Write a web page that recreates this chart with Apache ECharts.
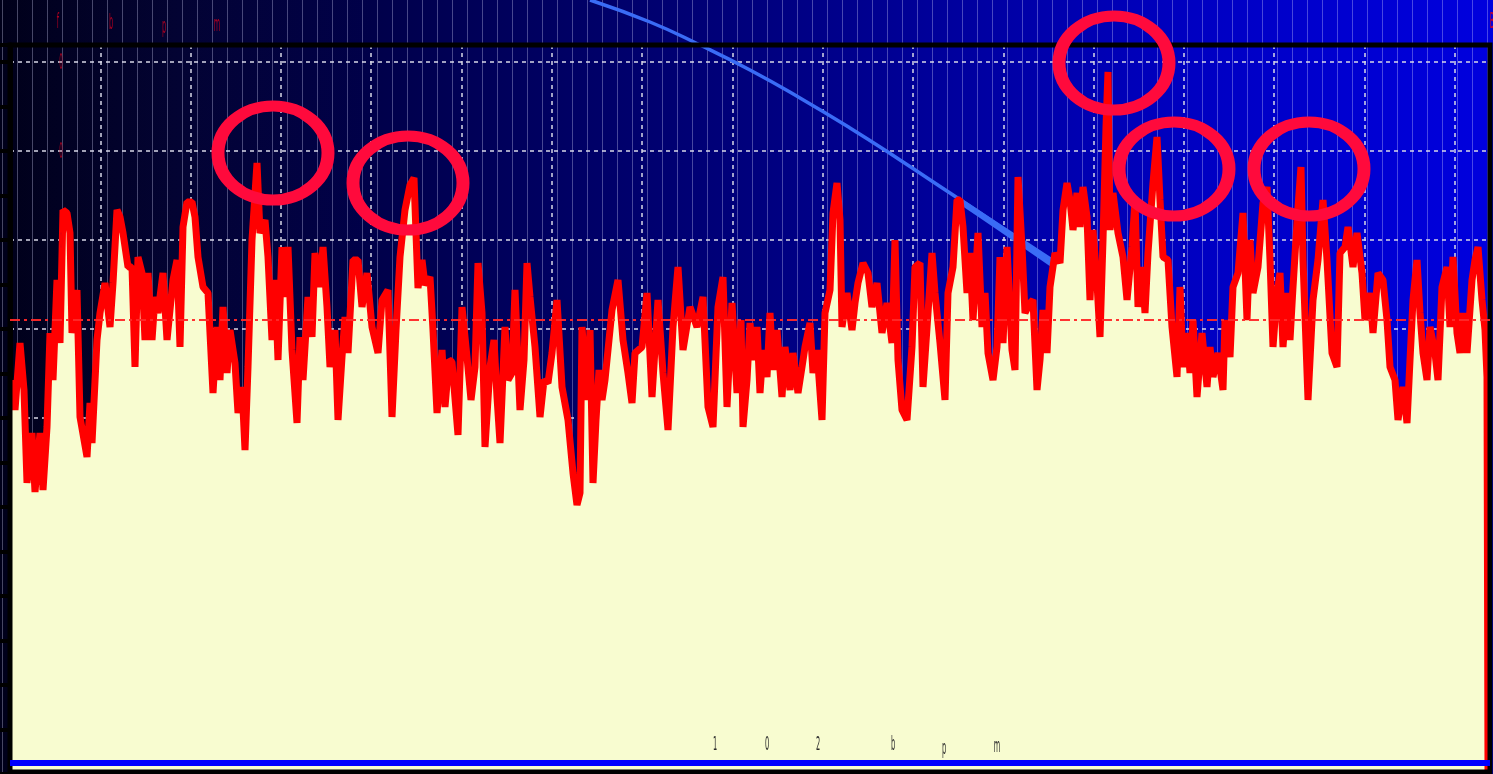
<!DOCTYPE html>
<html><head><meta charset="utf-8">
<script src="https://cdn.jsdelivr.net/npm/echarts@6/dist/echarts.min.js"></script>
<style>html,body{margin:0;padding:0;background:#000;}#c{width:1493px;height:774px;}</style>
</head><body><div id="c"></div>
<script>
// ---- data (sample position, amplitude) ----
const segmentA = [[2,394],[5,364],[10,431],[14,384],[17,291],[22,341],[25,282],[30,341],[33,284],[37,347],
[40,441],[43,394],[47,494],[50,431],[53,564],[57,561],[60,541],[62,441],[67,484],[70,357],
[77,317],[80,371],[82,331],[87,434],[90,461],[95,491],[100,447],[103,491],[107,564],[110,557],
[113,541],[118,507],[122,507],[125,407],[128,517],[132,501],[135,434],[138,501],[142,434],[145,477],
[148,461],[153,501],[157,434],[163,494],[167,514],[170,427],[173,547],[177,572],[182,572],[185,557],
[188,517],[193,487],[198,481],[203,381],[207,447],[210,394],[213,467],[217,401],[220,444],[225,411],
[228,361],[232,387],[235,324],[238,407],[242,534],[247,611],[250,541],[255,554],[258,517],[262,434],
[265,494],[268,414],[272,527],[275,477],[278,527],[282,424],[287,351],[290,437],[293,394],[298,477],
[302,437],[305,521],[310,487],[313,527],[317,467],[320,407],[325,444],[328,354],[332,417],[335,457],
[338,421],[343,514],[348,514],[352,467],[357,501],[362,447],[365,434],[368,421]];
const segmentB = [[372,474],[378,484],[382,357],[386,444],[390,517],[395,564],[400,589],[404,596],[408,486],[412,514],
[415,489],[420,497],[423,444],[427,361],[432,424],[435,367],[439,414],[442,412],[448,339],[452,467],
[457,417],[461,374],[465,407],[468,511],[472,461],[475,327],[480,407],[484,434],[487,377],[490,331],
[495,447],[498,394],[502,401],[505,484],[510,364],[514,414],[517,511],[520,477],[525,427],[530,357],
[534,394],[538,391],[542,421],[547,474],[552,387],[558,354],[563,301],[567,269],[570,281],[572,447],
[577,374],[580,444],[583,291],[586,354],[589,404],[592,374],[595,394],[602,464],[608,494],[613,434],
[618,401],[622,371],[625,421],[632,427],[637,481],[642,377],[648,474],[653,401],[658,344],[663,447],
[668,507],[673,424],[680,467],[687,447],[693,477],[698,367],[703,347],[708,467],[713,497],[717,367],
[722,471],[727,381]];
const segmentC = [[731,454],[733,347],[737,394],[740,451],[743,414],[747,447],[750,381],[753,424],[757,397],[760,461],
[763,404],[767,444],[772,377],[775,427],[780,384],[783,421],[788,381],[792,407],[795,427],[800,451],
[803,401],[807,424],[812,354],[815,461],[820,484],[823,561],[827,591],[830,554],[832,447],[837,481],
[842,444],[845,471],[848,491],[853,511],[858,501],[862,467],[867,491],[872,441],[877,471],[882,431],
[885,534],[888,414],[892,364],[897,354],[902,427],[905,507],[910,511],[913,387],[918,461],[922,521],
[925,481],[930,431],[935,374],[938,481],[943,507],[947,574],[950,574],[953,547],[957,481],[960,521],
[963,454],[968,541],[972,447],[975,481],[978,421],[983,394],[987,427],[990,517],[993,431],[997,527],
[1002,424],[1005,404],[1008,597],[1012,527],[1015,461],[1020,471],[1023,474],[1027,384],[1030,414],[1033,464],
[1037,421],[1040,487],[1045,521],[1050,511],[1053,564],[1057,591],[1060,574],[1063,544],[1067,581],[1070,547],
[1073,587],[1077,557],[1080,474],[1083,544],[1087,491],[1090,437],[1093,534],[1096,647],[1098,702]];
const segmentD = [[1100,544],[1103,581],[1108,541],[1113,517],[1117,474],[1122,527],[1125,574],[1128,467],[1132,507],[1135,461],
[1138,521],[1143,591],[1147,637],[1150,574],[1153,517],[1158,514],[1162,447],[1167,397],[1170,487],[1173,407],
[1177,441],[1180,401],[1183,454],[1187,377],[1192,441],[1197,387],[1200,427],[1203,397],[1208,421],[1213,384],
[1215,454],[1220,417],[1223,487],[1228,501],[1233,561],[1237,454],[1240,534],[1243,481],[1248,507],[1253,571],
[1257,587],[1260,514],[1263,427],[1267,481],[1270,501],[1273,427],[1277,481],[1280,434],[1283,487],[1288,567],
[1291,607],[1293,514],[1298,374],[1303,474],[1308,514],[1313,574],[1317,514],[1322,421],[1327,407],[1330,521],
[1335,527],[1338,547],[1343,507],[1347,541],[1352,501],[1355,454],[1360,481],[1363,441],[1368,501],[1373,494],
[1377,454],[1380,407],[1385,394],[1388,354],[1393,387],[1397,351],[1400,414],[1403,474],[1407,514],[1410,461],
[1413,421],[1417,394],[1420,447],[1425,421],[1428,394],[1432,487],[1437,507],[1440,447],[1443,517],[1447,441],
[1450,421],[1453,461],[1457,421],[1462,494],[1465,514],[1468,527],[1472,474],[1475,444],[1477,397],[1478,0]];
const trend = [[580,774],[640,752],[690,729],[740,704],[790,676],[840,646],[890,614],[940,581],[990,548],[1045,512]];
const trendTail = [[950,573],[990,546],[1045,508]];
const peakX = [263, 398, 1104, 1164, 1299];
const peakY = [621, 591, 711, 605, 605];
const meanLevel = 454;
const baseLevel = 11;
const tickX = [143, 214, 355, 426, 497, 709, 780, 851, 922, 993, 1205, 1276, 1347, 1417];
const tickH = [94, 29, 134, 104, 74, 124, 54, 54, 174, 129, 104, 84, 74, 104];
const bottomLabels = ['1', '0', '2', 'b', 'p', 'm'];
const topLabels = ['f', 'b', 'p', 'm'];
const sideLabels = ['0', '0', '0'];

const signal = segmentA.concat(segmentB, segmentC, segmentD);

// ---- layout for text and frame ----
const bottomPos = [[715,745],[767,745],[818,745],[893,745],[944,749],[997,747]];
const topPos = [[58,22],[111,23],[164,27],[217,25]];
const sidePos = [[61,63],[61,152],[61,242]];
const graphics = [];
graphics.push({type:'rect', z:4, silent:true, shape:{x:10, y:45, width:1480, height:727},
  style:{fill:null, stroke:'#000', lineWidth:5}});
bottomLabels.forEach((t, i) => graphics.push({type:'text', x:bottomPos[i][0], y:bottomPos[i][1], scaleX:0.35, z:100,
  style:{text:t, fontSize:19, fontFamily:'DejaVu Sans', fill:'#2a2a2a', textAlign:'center', textVerticalAlign:'middle'}}));
topLabels.forEach((t, i) => graphics.push({type:'text', x:topPos[i][0], y:topPos[i][1], scaleX:0.3, z:100,
  style:{text:t, fontSize:22, fontFamily:'DejaVu Sans', fill:'rgba(200,0,30,0.85)', textAlign:'center', textVerticalAlign:'middle'}}));
sideLabels.forEach((t, i) => graphics.push({type:'text', x:sidePos[i][0], y:sidePos[i][1], scaleX:0.25, z:100,
  style:{text:t, fontSize:22, fontFamily:'DejaVu Sans', fill:'rgba(200,0,30,' + (i === 2 ? 0.35 : 0.8) + ')', textAlign:'center', textVerticalAlign:'middle'}}));
graphics.push({type:'text', x:1492, y:22, scaleX:0.3, z:100,
  style:{text:'B', fontSize:22, fontFamily:'DejaVu Sans', fill:'rgba(220,0,30,0.9)', textAlign:'center', textVerticalAlign:'middle'}});

const chart = echarts.init(document.getElementById('c'), null, {renderer:'canvas'});
chart.setOption({
  animation: false,
  backgroundColor: {type:'linear', x:0, y:0, x2:1, y2:0, colorStops:[
    {offset:0, color:'#00001a'}, {offset:0.12, color:'#030333'}, {offset:0.25, color:'#00004a'},
    {offset:0.4, color:'#000068'}, {offset:0.5, color:'#00007c'}, {offset:0.6, color:'#000094'},
    {offset:0.7, color:'#0000ac'}, {offset:0.8, color:'#0000c2'}, {offset:1, color:'#0000de'}]},
  graphic: graphics,
  grid: [
    {left:10, right:3, top:45, bottom:0, show:false, containLabel:false},
    {left:2, right:0, top:0, bottom:0, show:false}
  ],
  xAxis: [
    {type:'value', gridIndex:0, min:0, max:1480, interval:90.3,
     axisLine:{show:false}, axisTick:{show:false}, axisLabel:{show:false},
     splitLine:{show:true, lineStyle:{color:'#d8d8e6', width:1.5, type:[4,4]}}},
    {type:'value', gridIndex:1, min:0, max:1491, interval:15,
     axisLine:{show:false}, axisTick:{show:false}, axisLabel:{show:false},
     splitLine:{show:true, lineStyle:{color:'rgba(220,220,255,0.32)', width:1}}}
  ],
  yAxis: [
    {type:'value', gridIndex:0, min:0, max:729, interval:89,
     axisLine:{show:true, lineStyle:{color:'#000', width:5}},
     axisTick:{show:true, length:10, lineStyle:{color:'#000', width:4}},
     minorTick:{show:true, splitNumber:2, length:10, lineStyle:{color:'#000', width:4}},
     axisLabel:{show:false},
     splitLine:{show:true, lineStyle:{color:'#d8d8e6', width:1.5, type:[4,4]}}},
    {type:'value', gridIndex:1, min:0, max:1, show:false, splitLine:{show:false}}
  ],
  series: [
    {type:'line', xAxisIndex:1, yAxisIndex:1, data:[], silent:true},
    {type:'line', xAxisIndex:0, yAxisIndex:0, data:trend, smooth:true, symbol:'none', clip:false, silent:true,
     lineStyle:{color:'#3a6cf6', width:3.5}},
    {type:'line', xAxisIndex:0, yAxisIndex:0, data:trendTail, smooth:true, symbol:'none', clip:false, silent:true,
     lineStyle:{color:'#3a6cf6', width:6}},
    {type:'line', xAxisIndex:0, yAxisIndex:0, data:signal, symbol:'none', clip:false,
     lineStyle:{color:'#ff0000', width:7},
     areaStyle:{color:'#f8fcd0', opacity:1, origin:'start'},
     markLine:{silent:true, symbol:'none', label:{show:false},
       data:[
         {yAxis:meanLevel, lineStyle:{color:'rgba(255,40,40,0.95)', width:2, type:[10,4,3,4]}},
         {yAxis:baseLevel, lineStyle:{color:'#0000ff', width:6, type:'solid'}}
       ]},
     markPoint:{silent:true, symbol:'circle', symbolSize:[110,94], label:{show:false},
       itemStyle:{color:'rgba(0,0,0,0)', borderColor:'#ff0a3c', borderWidth:12},
       data: peakX.map((x, i) => ({coord:[x, peakY[i]]}))}
    },
    {type:'bar', xAxisIndex:0, yAxisIndex:0, barWidth:1.5, silent:true,
     data: tickX.map((x, i) => [x, tickH[i]]),
     itemStyle:{color:{type:'linear', x:0, y:0, x2:0, y2:1, colorStops:[
       {offset:0, color:'rgba(150,150,140,0)'}, {offset:0.4, color:'rgba(150,150,140,0.35)'}, {offset:1, color:'rgba(140,140,130,0.6)'}]}}}
  ]
});
</script></body></html>
